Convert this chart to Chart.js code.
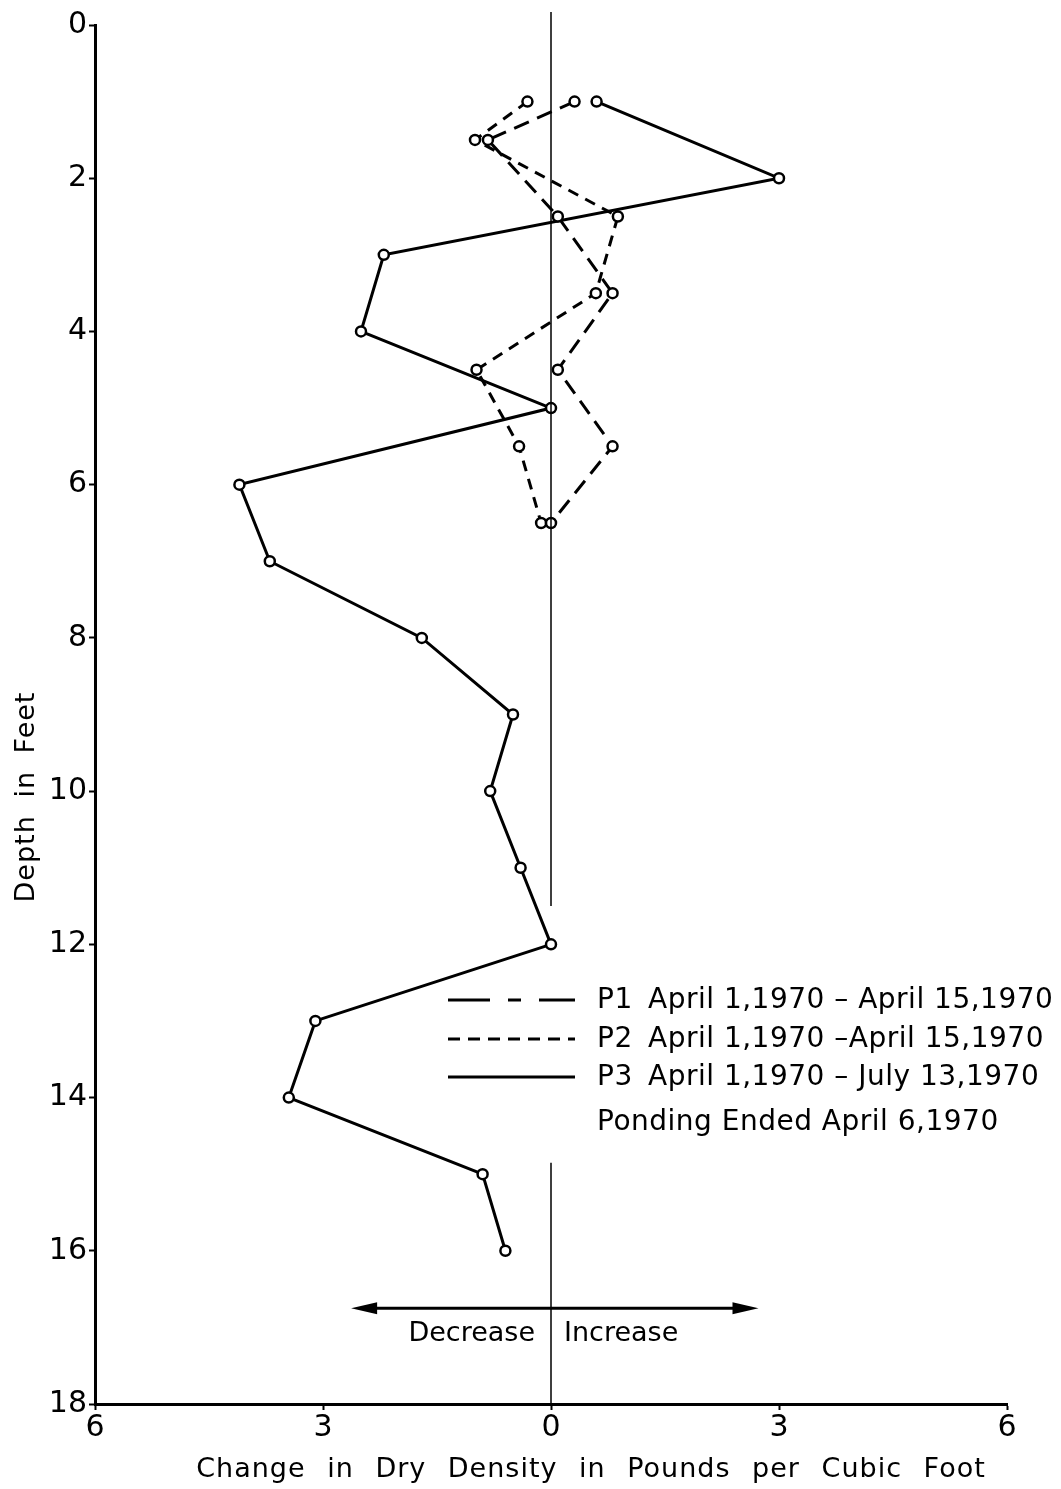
<!DOCTYPE html>
<html>
<head>
<meta charset="utf-8">
<script src="https://cdn.jsdelivr.net/npm/chart.js@4.4.1/dist/chart.umd.min.js"></script>
<style>
  html, body { margin: 0; padding: 0; background: #fff; }
  #wrap { width: 1061px; height: 1489px; }
</style>
</head>
<body>
<div id="wrap"><canvas id="densityChart" width="1061" height="1489"></canvas></div>
<script>
// depths (ft) and change in dry density (pcf)
const depthsP12 = [1, 1.5, 2.5, 3.5, 4.5, 5.5, 6.5];
const p1Change = [0.31, -0.83, 0.09, 0.81, 0.09, 0.81, 0.0];
const p2Change = [-0.31, -1.0, 0.88, 0.59, -0.98, -0.42, -0.13];
const depthsP3 = [1, 2, 3, 4, 5, 6, 7, 8, 9, 10, 11, 12, 13, 14, 15, 16];
const p3Change = [0.6, 3.0, -2.2, -2.5, 0.0, -4.1, -3.7, -1.7, -0.5, -0.8, -0.4, 0.0, -3.1, -3.45, -0.9, -0.6];

// zero reference line, broken where the legend sits
const zeroTopY = [-0.17, 11.5];
const zeroBottomY = [14.85, 18];

const xTicks = [-6, -3, 0, 3, 6];
const yTicks = [0, 2, 4, 6, 8, 10, 12, 14, 16, 18];

const xTitle = 'Change in Dry Density in Pounds per Cubic Foot';
const yTitle = 'Depth in Feet';
const legendLabels = ['P1', 'P2', 'P3'];
const legendDates = ['April 1,1970 \u2013 April 15,1970', 'April 1,1970 \u2013April 15,1970', 'April 1,1970 \u2013 July 13,1970'];
const legendNote = 'Ponding Ended April 6,1970';

const arrowDepth = 16.75;
const arrowFrom = -2.63;
const arrowTo = 2.73;

const FONT = '"DejaVu Sans", sans-serif';

function toPoints(xs, ys) {
  return xs.map((x, i) => ({ x: x, y: ys[i] }));
}

const lineStyle = {
  showLine: true,
  borderColor: '#000',
  borderWidth: 3,
  pointRadius: 5,
  pointHoverRadius: 5,
  pointBorderWidth: 2.5,
  pointBorderColor: '#000',
  pointBackgroundColor: '#fff',
  fill: false,
  tension: 0
};

const zeroStyle = {
  showLine: true,
  borderColor: '#000',
  borderWidth: 1.5,
  pointRadius: 0,
  clip: false
};

// titles, legend and the decrease/increase arrow
const overlay = {
  id: 'overlay',
  afterDraw(chart) {
    const ctx = chart.ctx;
    const xs = chart.scales.x;
    const ys = chart.scales.y;
    ctx.save();
    ctx.fillStyle = '#000';
    ctx.strokeStyle = '#000';
    ctx.textBaseline = 'middle';

    // axis titles (lettering is spaced out in the original)
    ctx.save();
    ctx.font = '27px ' + FONT;
    ctx.letterSpacing = '1px';
    ctx.wordSpacing = '12px';
    ctx.textAlign = 'center';
    ctx.fillText(xTitle, 591, 1470);
    ctx.translate(27, 797);
    ctx.rotate(-Math.PI / 2);
    ctx.wordSpacing = '8px';
    ctx.fillText(yTitle, 0, 0);
    ctx.restore();

    // legend
    const rows = [1000, 1039, 1077];
    const dashes = [[42, 18, 13, 18], [12, 8], []];
    ctx.lineWidth = 3;
    rows.forEach((y, i) => {
      ctx.setLineDash(dashes[i]);
      ctx.beginPath();
      ctx.moveTo(448, y);
      ctx.lineTo(575, y);
      ctx.stroke();
    });
    ctx.setLineDash([]);
    ctx.save();
    ctx.font = '28px ' + FONT;
    ctx.letterSpacing = '0.5px';
    ctx.textAlign = 'left';
    rows.forEach((y, i) => {
      ctx.fillText(legendLabels[i], 597, y + 1);
      ctx.fillText(legendDates[i], 648, y + 1);
    });
    ctx.fillText(legendNote, 597, 1123);
    ctx.restore();

    // decrease / increase arrow
    const ay = ys.getPixelForValue(arrowDepth);
    const x1 = xs.getPixelForValue(arrowFrom);
    const x2 = xs.getPixelForValue(arrowTo);
    ctx.lineWidth = 3;
    ctx.beginPath();
    ctx.moveTo(x1 + 20, ay);
    ctx.lineTo(x2 - 20, ay);
    ctx.stroke();
    ctx.beginPath();
    ctx.moveTo(x1, ay);
    ctx.lineTo(x1 + 26, ay - 6);
    ctx.lineTo(x1 + 26, ay + 6);
    ctx.closePath();
    ctx.fill();
    ctx.beginPath();
    ctx.moveTo(x2, ay);
    ctx.lineTo(x2 - 26, ay - 6);
    ctx.lineTo(x2 - 26, ay + 6);
    ctx.closePath();
    ctx.fill();
    const x0 = xs.getPixelForValue(0);
    ctx.font = '27px ' + FONT;
    ctx.textAlign = 'right';
    ctx.fillText('Decrease', x0 - 16, ay + 26);
    ctx.textAlign = 'left';
    ctx.fillText('Increase', x0 + 13, ay + 26);

    ctx.restore();
  }
};

const ctx = document.getElementById('densityChart').getContext('2d');
new Chart(ctx, {
  type: 'scatter',
  data: {
    datasets: [
      Object.assign({ label: 'zero-top', data: toPoints([0, 0], zeroTopY) }, zeroStyle),
      Object.assign({ label: 'zero-bottom', data: toPoints([0, 0], zeroBottomY) }, zeroStyle),
      Object.assign({ label: 'P1', data: toPoints(p1Change, depthsP12), borderDash: [16, 9] }, lineStyle),
      Object.assign({ label: 'P2', data: toPoints(p2Change, depthsP12), borderDash: [11, 8] }, lineStyle),
      Object.assign({ label: 'P3', data: toPoints(p3Change, depthsP3) }, lineStyle)
    ]
  },
  options: {
    responsive: false,
    animation: false,
    events: [],
    layout: { padding: { top: 25, right: 54, left: 0, bottom: 0 } },
    plugins: {
      legend: { display: false },
      tooltip: { enabled: false }
    },
    scales: {
      x: {
        type: 'linear',
        min: -6,
        max: 6,
        afterBuildTicks: s => { s.ticks = xTicks.map(v => ({ value: v })); },
        afterFit: s => { s.height = 85; },
        grid: { drawOnChartArea: false, tickLength: 6, tickWidth: 2, color: '#000' },
        border: { display: true, width: 3, color: '#000' },
        ticks: {
          color: '#000',
          padding: 0,
          font: { family: FONT, size: 30 },
          callback: v => String(Math.abs(v))
        }
      },
      y: {
        type: 'linear',
        reverse: true,
        min: 0,
        max: 18,
        afterBuildTicks: s => { s.ticks = yTicks.map(v => ({ value: v })); },
        afterFit: s => { s.width = 95; },
        grid: { drawOnChartArea: false, tickLength: 6, tickWidth: 2, color: '#000' },
        border: { display: true, width: 3, color: '#000' },
        ticks: {
          color: '#000',
          padding: 2,
          font: { family: FONT, size: 30 }
        }
      }
    }
  },
  plugins: [overlay]
});
</script>
</body>
</html>
